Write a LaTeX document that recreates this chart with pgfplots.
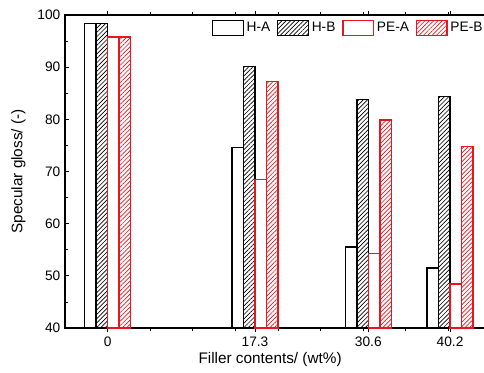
\documentclass[border=0pt]{standalone}
\usepackage{fontspec}
\setmainfont{Liberation Sans}
\usepackage{pgfplots}
\pgfplotsset{compat=1.18}
\usetikzlibrary{patterns.meta}
\definecolor{myred}{RGB}{232,20,30}
\begin{document}
\begin{tikzpicture}
\begin{axis}[
  scale only axis,
  width=332.25pt, height=234.75pt,
  xmin=-5, xmax=47, ymin=40, ymax=100,
  xtick={0,17.3,30.6,40.2},
  xticklabels={0,17.3,30.6,40.2},
  minor xtick={5,10,...,45},
  ytick={40,50,...,100},
  minor ytick={45,55,...,95},
  major tick length=3pt, minor tick length=2pt,
  tick align=inside,
  tick style={black, line width=0.6pt},
  axis line style={black, line width=0.8pt},
  ticklabel style={font=\fontsize{10.3}{12}\selectfont},
  /pgf/number format/assume math mode=true,
  xlabel={Filler contents/ (wt\%)},
  ylabel={Specular gloss/ (-)},
  label style={font=\fontsize{11.5}{13}\selectfont},
  xlabel style={at={(axis description cs:0.463,0)}, anchor=north, yshift=-15pt},
  ylabel style={at={(axis description cs:0,0.5)}, anchor=south, yshift=26pt},
  ybar, bar width=1.35,
  legend columns=4,
  legend style={draw=none, fill=none, at={(axis description cs:0.328,0.99)}, anchor=north west,
    font=\fontsize{10.3}{12}\selectfont, inner sep=1pt,
    /tikz/every even column/.append style={column sep=3pt}},
  legend image code/.code={\draw[#1, ybar, bar shift=0pt] (0pt,-5.6pt) rectangle (23pt,5.6pt);},
]
\addplot[draw=black, fill=white, line width=1.1pt, bar shift=-2.025]
  coordinates {(0,98.4) (17.3,74.6) (30.6,55.5) (40.2,51.5)};
\addplot[draw=black, line width=1.1pt, bar shift=-0.675,
  pattern={Lines[angle=45,distance=2.3pt,line width=0.5pt]}, pattern color=black]
  coordinates {(0,98.4) (17.3,90.1) (30.6,83.8) (40.2,84.4)};
\addplot[draw=myred, fill=white, line width=1.1pt, bar shift=0.675]
  coordinates {(0,95.8) (17.3,68.5) (30.6,54.3) (40.2,48.4)};
\addplot[draw=myred, line width=1.1pt, bar shift=2.025,
  pattern={Lines[angle=45,distance=2.3pt,line width=0.5pt]}, pattern color=myred]
  coordinates {(0,95.8) (17.3,87.3) (30.6,79.9) (40.2,74.8)};
\legend{H-A,H-B,PE-A,PE-B}
\end{axis}
\pgfresetboundingbox
\path (-48.75pt,-33pt) rectangle (314.25pt,246pt);
\end{tikzpicture}
\end{document}
